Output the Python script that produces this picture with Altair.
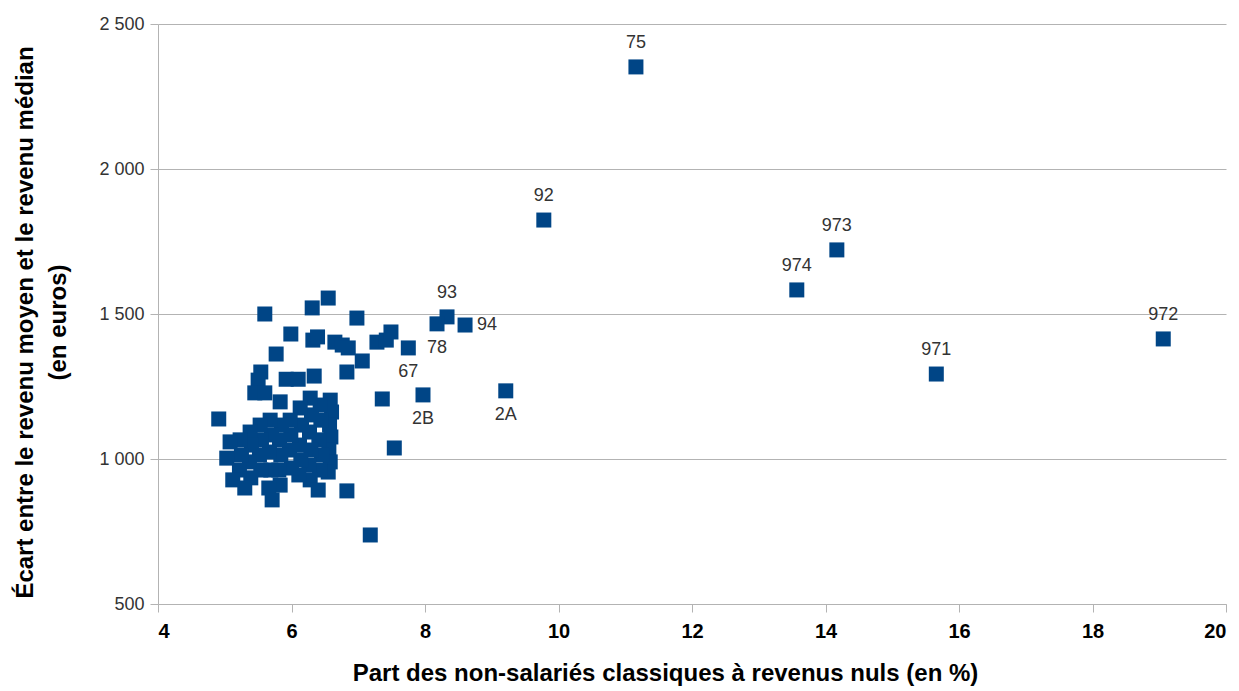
import altair as alt
import pandas as pd

# Département codes (empty string = unlabelled point)
codes = ["75", "92", "973", "974", "972", "971", "93", "94", "78", "67", "2B", "2A"]
share_lab = [11.16, 9.78, 14.17, 13.57, 19.06, 15.66, 8.33, 8.60, 8.18, 7.75, 7.97, 9.21]
gap_lab = [2352, 1824, 1721, 1583, 1414, 1293, 1490, 1462, 1466, 1383, 1221, 1235]

# Unlabelled départements
share_other = [
    7.36, 7.54, 6.83, 7.18,
    5.60, 6.31, 6.55, 6.98, 5.99, 6.32, 6.39, 6.65, 6.76, 6.85, 7.06, 6.83, 7.28, 7.42, 7.49,
    5.77, 5.54, 5.50, 5.45, 5.60, 5.92, 6.10, 6.34,
    6.58, 6.60, 6.57, 6.59, 6.56, 6.58, 6.55,
    6.43, 6.44, 6.41, 6.45, 6.42,
    6.28, 6.30, 6.27, 6.29, 6.26, 6.28,
    6.13, 6.15, 6.12, 6.14, 6.11,
    5.98, 5.99, 5.97, 6.00,
    5.83, 5.85, 5.82, 5.84, 5.81, 5.83,
    5.68, 5.70, 5.67, 5.69, 5.66, 5.71,
    5.53, 5.55, 5.52, 5.54,
    5.38, 5.40, 5.37, 5.39,
    5.23, 5.25, 5.22, 5.30,
    5.08, 5.03, 5.12,
    4.91, 6.40,
]
gap_other = [
    1207, 1038, 890, 738,
    1500, 1521, 1555, 1486, 1431, 1410, 1421, 1403, 1393, 1383, 1338, 1300, 1403, 1410, 1438,
    1362, 1300, 1272, 1228, 1228, 1275, 1275, 1286,
    1203, 1162, 1117, 1076, 1031, 990, 955,
    1186, 1134, 1066, 1014, 962,
    1210, 1152, 1093, 1031, 979, 928,
    1176, 1117, 1048, 997, 945,
    1134, 1083, 1031, 969,
    1197, 1117, 1066, 1014, 962, 910,
    1134, 1083, 1024, 962, 900, 859,
    1117, 1066, 1014, 962,
    1093, 1048, 990, 935,
    1066, 1014, 962, 900,
    1059, 1003, 928,
    1138, 893,
]

label_above = ["75", "92", "973", "974", "972", "971", "93"]
label_below = ["78", "67", "2B", "2A"]
label_right = ["94"]

x_ticks = [4, 6, 8, 10, 12, 14, 16, 18, 20]
y_ticks = [500, 1000, 1500, 2000, 2500]

df = pd.DataFrame({
    "code": codes + [""] * len(share_other),
    "share": share_lab + share_other,
    "gap": gap_lab + gap_other,
})

FONT = "Liberation Sans"
BLUE = "#004586"
GRID = "#b3b3b3"

x_enc = alt.X(
    "share:Q",
    scale=alt.Scale(domain=[4, 20], nice=False),
    axis=alt.Axis(
        values=x_ticks, format="d", grid=False,
        title="Part des non-salariés classiques à revenus nuls (en %)",
        domainColor=GRID, tickColor=GRID, tickSize=8, labelPadding=9,
        labelFont=FONT, labelFontSize=20, labelFontWeight="bold", labelColor="#000000",
        titleFont=FONT, titleFontSize=24, titleFontWeight="bold", titleColor="#000000",
        titlePadding=20, titleX=507,
    ),
)
y_enc = alt.Y(
    "gap:Q",
    scale=alt.Scale(domain=[500, 2500], nice=False),
    axis=alt.Axis(
        values=y_ticks, grid=True, gridColor=GRID, domainColor=GRID, tickColor=GRID,
        tickSize=8, labelPadding=6,
        labelExpr="replace(format(datum.value, ','), ',', ' ')",
        labelFont=FONT, labelFontSize=18, labelColor="#333333",
        title=["Écart entre le revenu moyen et le revenu médian", "(en euros)"],
        titleFont=FONT, titleFontSize=24, titleFontWeight="bold", titleColor="#000000",
        titlePadding=28, titleLineHeight=33, titleY=298,
    ),
)

base = alt.Chart(df)
points = base.mark_point(shape="square", filled=True, size=225, opacity=1, color=BLUE).encode(
    x=x_enc, y=y_enc
)

def labels(codes_sel, **kw):
    return base.transform_filter(
        alt.FieldOneOfPredicate(field="code", oneOf=codes_sel)
    ).mark_text(font=FONT, fontSize=18, color="#333333", **kw).encode(
        x="share:Q", y="gap:Q", text="code:N"
    )

chart = alt.layer(
    points,
    labels(label_above, dy=-24),
    labels(label_below, dy=24),
    labels(label_right, dx=12, align="left"),
).properties(
    width=1068, height=580,
    padding={"left": 150, "top": 16, "right": 5, "bottom": 84},
    autosize=alt.AutoSizeParams(type="none"),
).configure_view(stroke=None)

chart.save("out.html", embed_options={"renderer": "svg", "actions": False})
